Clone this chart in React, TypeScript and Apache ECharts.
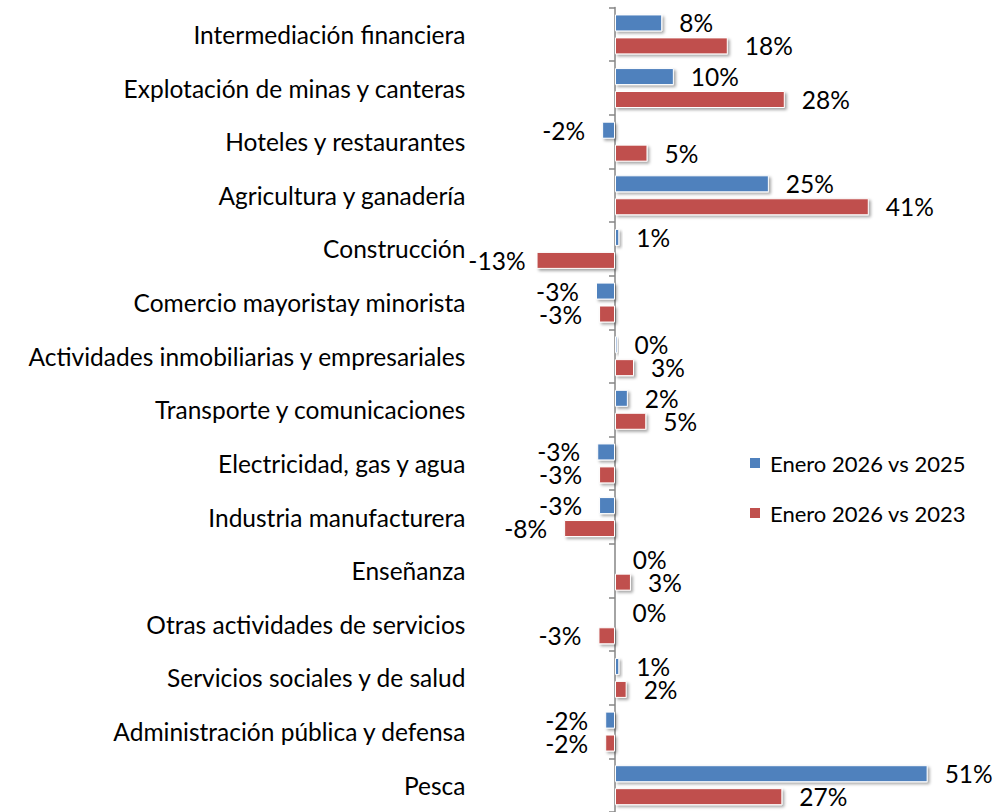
import React, { useEffect, useRef } from "react";
import * as echarts from "echarts";

const categories = [
  "Intermediación financiera",
  "Explotación de minas y canteras",
  "Hoteles y restaurantes",
  "Agricultura y ganadería",
  "Construcción",
  "Comercio mayoristay minorista",
  "Actividades inmobiliarias y empresariales",
  "Transporte y comunicaciones",
  "Electricidad, gas y agua",
  "Industria manufacturera",
  "Enseñanza",
  "Otras actividades de servicios",
  "Servicios sociales y de salud",
  "Administración pública y defensa",
  "Pesca",
];

const seriesNames = ["Enero 2026 vs 2025", "Enero 2026 vs 2023"];
const vs2025 = [7.7, 9.6, -2.1, 25.1, 0.7, -3.1, 0.4, 2.1, -2.9, -2.6, 0.1, 0, 0.7, -1.6, 51.0];
const vs2023 = [18.4, 27.7, 5.3, 41.4, -12.8, -2.6, 3.1, 5.1, -2.6, -8.3, 2.6, -2.7, 1.9, -1.6, 27.3];
const colors = ["#4F81BD", "#C0504D"];

const FONT = "Lato";
const FS = 24.5;
const LEGEND_FS = 22;

function buildData(values: number[]) {
  return values.map((v) => ({
    value: v,
    label: {
      position: v < 0 ? "left" : "right",
      distance: v < -10 ? 11 : 17,
    },
  }));
}

export default function App() {
  const ref = useRef<HTMLDivElement>(null);
  useEffect(() => {
    if (!ref.current) return;
    const chart = echarts.init(ref.current, undefined, { renderer: "svg" });
    const mkSeries = (name: string, values: number[], color: string) => ({
      name,
      type: "bar",
      yAxisIndex: 0,
      barWidth: 17,
      barGap: "35%",
      data: buildData(values),
      itemStyle: {
        color,
        borderColor: "#ffffff",
        borderWidth: 1,
        shadowColor: "rgba(0,0,0,0.35)",
        shadowBlur: 3,
        shadowOffsetX: 2,
        shadowOffsetY: 2,
      },
      label: {
        show: true,
        fontFamily: FONT,
        fontSize: FS,
        lineHeight: 21,
        color: "#000",
        formatter: (p: any) => `${Math.round(p.value)}%`,
      },
    });
    chart.setOption({
      animation: false,
      backgroundColor: "#ffffff",
      grid: { left: 492.4, top: 7.6, width: 490.4, height: 808 },
      legend: {
        orient: "vertical",
        left: 748,
        top: 452,
        padding: 0,
        itemWidth: 12,
        itemHeight: 12,
        itemGap: 28,
        icon: "rect",
        data: seriesNames,
        textStyle: {
          fontFamily: FONT,
          fontSize: LEGEND_FS,
          color: "#000",
          lineHeight: 22,
          padding: [0, 0, 0, 4],
        },
      },
      xAxis: {
        type: "value",
        min: -20,
        max: 60,
        show: false,
        splitLine: { show: false },
      },
      yAxis: [
        {
          type: "category",
          data: categories,
          inverse: true,
          position: "left",
          axisLine: { show: true, onZero: true, lineStyle: { color: "#868686", width: 1.5 } },
          axisTick: { show: true, length: 6, lineStyle: { color: "#868686", width: 1.5 } },
          axisLabel: { show: false },
        },
        {
          type: "category",
          data: categories,
          inverse: true,
          position: "left",
          axisLine: { show: false, onZero: false },
          axisTick: { show: false },
          axisLabel: {
            show: true,
            margin: 27,
            fontFamily: FONT,
            fontSize: FS,
            color: "#000",
          },
        },
      ],
      series: [
        mkSeries(seriesNames[0], vs2025, colors[0]),
        mkSeries(seriesNames[1], vs2023, colors[1]),
      ],
    });
    return () => chart.dispose();
  }, []);
  return (
    <div
      ref={ref}
      style={{ position: "fixed", left: 0, top: 0, width: 998, height: 812, background: "#fff" }}
    />
  );
}
